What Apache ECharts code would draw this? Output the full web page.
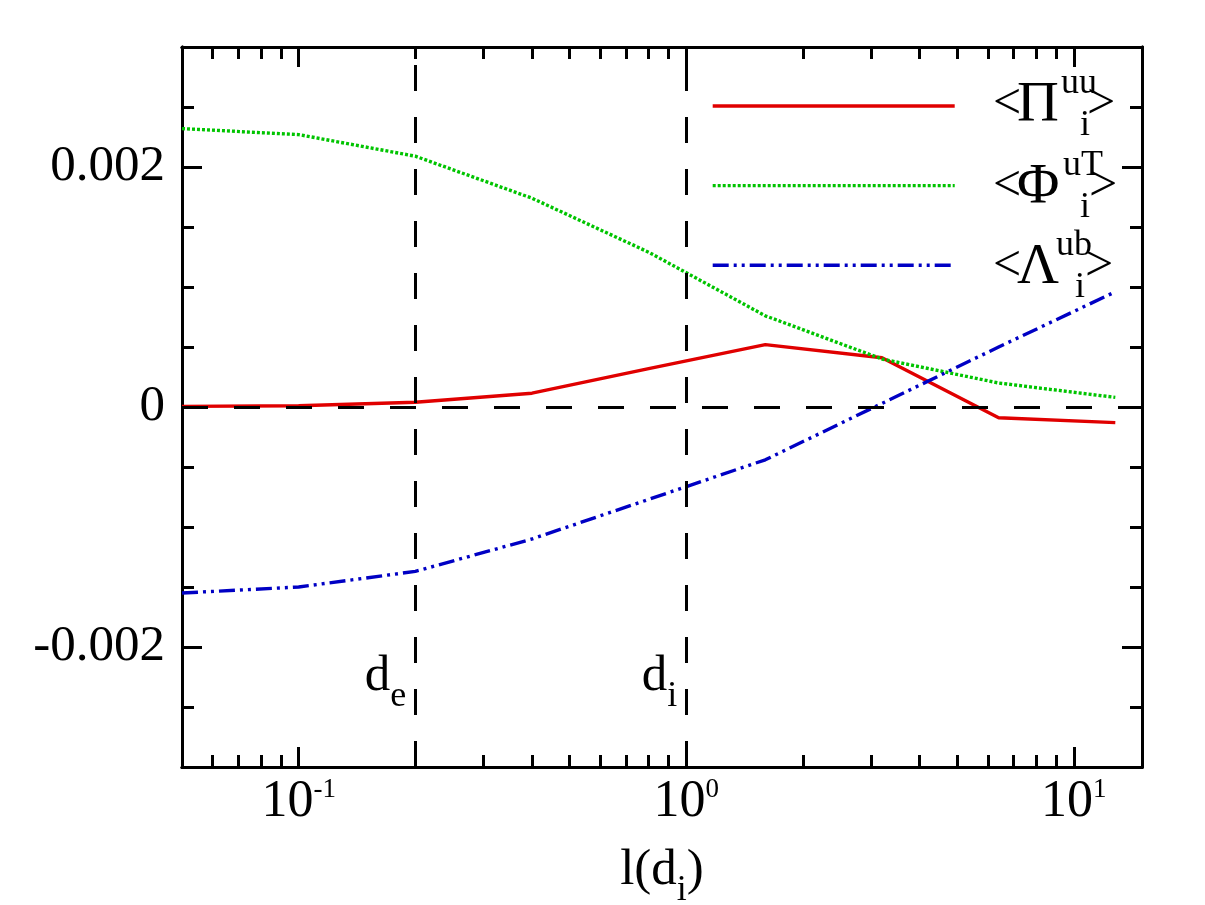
<!DOCTYPE html>
<html>
<head>
<meta charset="utf-8">
<script src="https://cdn.jsdelivr.net/npm/echarts@6/dist/echarts.min.js"></script>
<style>
  html, body { margin: 0; padding: 0; background: #fff; }
  #chart { width: 1205px; height: 905px; }
</style>
</head>
<body>
<div id="chart"></div>
<script>
const FONT = '"Liberation Serif", "Times New Roman", serif';

// scale l in units of d_i
const lengthScales = [0.05, 0.1, 0.2, 0.4, 0.8, 1.6, 3.2, 6.4, 12.8];
const piUU = [0.000005, 0.00001, 0.00004, 0.000115, 0.00032, 0.00052, 0.00041, -0.00009, -0.00013];
const phiUT = [0.00232, 0.00227, 0.00209, 0.00174, 0.00129, 0.00076, 0.0004, 0.0002, 0.00008];
const lambdaUB = [-0.00155, -0.0015, -0.00137, -0.0011, -0.00077, -0.00044, 0.00003, 0.0005, 0.00096];

const xMajorTicks = [0.1, 1, 10];
const xMinorTicks = [0.06, 0.07, 0.08, 0.09, 0.2, 0.3, 0.4, 0.5, 0.6, 0.7, 0.8, 0.9,
    2, 3, 4, 5, 6, 7, 8, 9];
const yMajorTicks = [-0.002, 0, 0.002];
const deMark = 0.2;
const diMark = 1;

const colors = {pi: '#e00000', phi: '#00c400', lambda: '#0000c4'};

function toPairs(values) {
    return values.map((v, i) => [lengthScales[i], v]);
}

const black = '#000';
const axisLine = {show: true, onZero: false, lineStyle: {color: black, width: 3}};

// main text + lowered subscript, used for l(d_i), d_e, d_i
const subRich = {
    m: {fontFamily: FONT, fontSize: 51, color: black, lineHeight: 51},
    s: {fontFamily: FONT, fontSize: 36, color: black, lineHeight: 36, padding: [40, 0, 0, 0]}
};

function xAxis(grid, position, ticks, len, withLabels) {
    const ax = {
        type: 'log',
        logBase: 10,
        gridIndex: grid,
        position: position,
        min: 0.05,
        max: 15,
        axisLine: axisLine,
        splitLine: {show: false},
        axisTick: {show: true, inside: true, length: len, customValues: ticks,
            lineStyle: {color: black, width: 3}},
        axisLabel: {show: false}
    };
    if (withLabels) {
        ax.axisLabel = {
            show: true,
            customValues: ticks,
            margin: 9,
            formatter: v => '{b|10}{s|' + Math.round(Math.log10(v)) + '}',
            rich: {
                b: {fontFamily: FONT, fontSize: 52, color: black, lineHeight: 52, verticalAlign: 'bottom'},
                s: {fontFamily: FONT, fontSize: 27, color: black, lineHeight: 30, verticalAlign: 'top'}
            }
        };
        ax.name = '{m|l(d}{s|i}{m|)}';
        ax.nameLocation = 'middle';
        ax.nameGap = 57;
        ax.nameTextStyle = {rich: subRich};
    }
    return ax;
}

function yAxis(grid, position, major, withLabels) {
    const ax = {
        type: 'value',
        gridIndex: grid,
        position: position,
        min: -0.003,
        max: 0.003,
        axisLine: axisLine,
        splitLine: {show: false},
        axisTick: {show: true, inside: true, length: major ? 20 : 12,
            lineStyle: {color: black, width: 3}},
        axisLabel: {show: false}
    };
    if (major) {
        ax.axisTick.customValues = yMajorTicks;
    }
    else {
        ax.interval = 0.0005;
    }
    if (withLabels) {
        ax.axisLabel = {
            show: true,
            customValues: yMajorTicks,
            margin: 17,
            fontFamily: FONT,
            fontSize: 51,
            color: black,
            formatter: v => (v === 0 ? '0' : String(v))
        };
    }
    return ax;
}

const subLabel = (main, sub) => ({
    show: true,
    position: 'left',
    distance: 9,
    formatter: '{m|' + main + '}{s|' + sub + '}',
    rich: subRich
});

// legend math labels: <X^sup_i>
const legendTexts = [
    {greek: 'Π', sup: 'uu', y: 102, supX: 1061, subX: 1080, closeX: 1087},
    {greek: 'Φ', sup: 'uT', y: 184, supX: 1063, subX: 1080, closeX: 1089},
    {greek: 'Λ', sup: 'ub', y: 264, supX: 1056, subX: 1075, closeX: 1085}
];
const graphics = [];
legendTexts.forEach(t => {
    const base = {fontFamily: FONT, fill: black, align: 'left', verticalAlign: 'middle'};
    graphics.push({type: 'text', x: 993, y: t.y + 3, style: Object.assign({text: '<', fontSize: 50}, base)});
    graphics.push({type: 'text', x: 1017, y: t.y + 4, style: Object.assign({text: t.greek, fontSize: 58}, base)});
    graphics.push({type: 'text', x: t.supX, y: t.y - 18, style: Object.assign({text: t.sup, fontSize: 36}, base)});
    graphics.push({type: 'text', x: t.subX, y: t.y + 24, style: Object.assign({text: 'i', fontSize: 36}, base)});
    graphics.push({type: 'text', x: t.closeX, y: t.y + 3, style: Object.assign({text: '>', fontSize: 50}, base)});
});

const gridBox = {left: 182, right: 63, top: 47, bottom: 138, outerBoundsMode: 'none', containLabel: false};

const chart = echarts.init(document.getElementById('chart'));
chart.setOption({
    animation: false,
    backgroundColor: '#fff',
    grid: [Object.assign({}, gridBox), Object.assign({}, gridBox)],
    xAxis: [
        xAxis(0, 'bottom', xMajorTicks, 20, true),
        xAxis(0, 'top', xMajorTicks, 20, false),
        xAxis(1, 'bottom', xMinorTicks, 12, false),
        xAxis(1, 'top', xMinorTicks, 12, false)
    ],
    yAxis: [
        yAxis(0, 'left', true, true),
        yAxis(0, 'right', true, false),
        yAxis(1, 'left', false, false),
        yAxis(1, 'right', false, false)
    ],
    legend: {
        data: ['Pi', 'Phi', 'Lambda'],
        orient: 'vertical',
        left: 706,
        top: 94,
        itemWidth: 242,
        itemHeight: 14,
        itemGap: 67,
        selectedMode: false,
        formatter: () => '',
        textStyle: {fontSize: 1},
        itemStyle: {opacity: 0},
        lineStyle: {width: 3.4}
    },
    graphic: graphics,
    series: [
        {
            name: 'refs',
            type: 'line',
            data: [],
            silent: true,
            markLine: {
                silent: true,
                symbol: ['none', 'none'],
                label: {show: false},
                lineStyle: {color: black, width: 3, type: [26, 26]},
                data: [{xAxis: deMark}, {xAxis: diMark}, {yAxis: 0}]
            },
            markPoint: {
                silent: true,
                symbol: 'circle',
                symbolSize: 0,
                data: [
                    {coord: [deMark, -0.00225], label: subLabel('d', 'e')},
                    {coord: [diMark, -0.00225], label: subLabel('d', 'i')}
                ]
            }
        },
        {
            name: 'Pi',
            type: 'line',
            data: toPairs(piUU),
            symbol: 'none',
            itemStyle: {color: colors.pi},
            lineStyle: {color: colors.pi, width: 3.4}
        },
        {
            name: 'Phi',
            type: 'line',
            data: toPairs(phiUT),
            symbol: 'none',
            itemStyle: {color: colors.phi},
            lineStyle: {color: colors.phi, width: 3.4, type: [3, 2]}
        },
        {
            name: 'Lambda',
            type: 'line',
            data: toPairs(lambdaUB),
            symbol: 'none',
            itemStyle: {color: colors.lambda},
            lineStyle: {color: colors.lambda, width: 3.4, type: [16, 5, 3, 5, 3, 5]}
        }
    ]
});
</script>
</body>
</html>
